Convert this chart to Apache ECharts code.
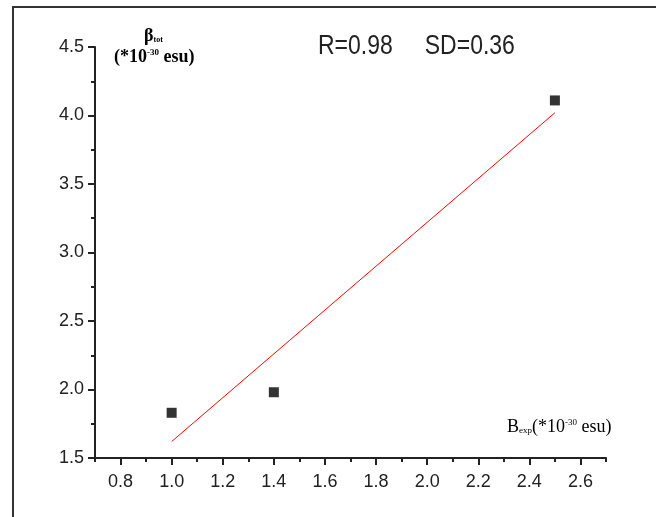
<!DOCTYPE html>
<html>
<head>
<meta charset="utf-8">
<script src="https://cdn.jsdelivr.net/npm/echarts@6/dist/echarts.min.js"></script>
<style>
  html, body { margin: 0; padding: 0; background: #fff; }
  #chart { width: 656px; height: 517px; }
</style>
</head>
<body>
<div id="chart"></div>
<script>
// experimental vs computed beta
const expValues = [1.0, 1.4, 2.5];
const totValues = [1.83, 1.98, 4.11];
const fitX = [1.0, 2.5];
const fitY = [1.62, 4.02];
const xTickLabels = [0.8, 1.0, 1.2, 1.4, 1.6, 1.8, 2.0, 2.2, 2.4, 2.6];
const xMinorTicks = [0.7, 0.9, 1.1, 1.3, 1.5, 1.7, 1.9, 2.1, 2.3, 2.5, 2.7];
const yTickLabels = [1.5, 2.0, 2.5, 3.0, 3.5, 4.0, 4.5];

const chart = echarts.init(document.getElementById('chart'), null, { renderer: 'canvas' });

const labelFont = { fontFamily: 'Liberation Sans', fontSize: 18, color: '#222' };
const serif = 'Liberation Serif';

const option = {
  animation: false,
  backgroundColor: '#fff',
  grid: { left: 95, top: 47, right: 50, bottom: 59 },
  xAxis: [
    {
      type: 'value', min: 0.7, max: 2.7,
      splitLine: { show: false },
      axisLine: { show: true, onZero: false, lineStyle: { color: '#222', width: 2 } },
      axisTick: { show: true, length: 7, customValues: xTickLabels, lineStyle: { color: '#222', width: 2 } },
      axisLabel: { ...labelFont, margin: 15, customValues: xTickLabels, formatter: v => v.toFixed(1) }
    },
    {
      type: 'value', min: 0.7, max: 2.7, position: 'bottom',
      splitLine: { show: false },
      axisLine: { show: false },
      axisTick: { show: true, length: 4, customValues: xMinorTicks, lineStyle: { color: '#222', width: 2 } },
      axisLabel: { show: false }
    }
  ],
  yAxis: {
    type: 'value', min: 1.5, max: 4.5, interval: 0.5,
    splitLine: { show: false },
    axisLine: { show: true, onZero: false, lineStyle: { color: '#222', width: 2 } },
    axisTick: { show: true, length: 7, lineStyle: { color: '#222', width: 2 } },
    minorTick: { show: true, splitNumber: 2, length: 4, lineStyle: { color: '#222', width: 2 } },
    axisLabel: { ...labelFont, margin: 11, formatter: v => v.toFixed(1) }
  },
  graphic: [
    { type: 'rect', shape: { x: 13, y: 7, width: 700, height: 600 },
      style: { fill: 'none', stroke: '#333', lineWidth: 2 }, silent: true },
    { type: 'text', x: 318, y: 33, scaleY: 1.17,
      style: { text: 'R=0.98     SD=0.36', font: '23px "Liberation Sans"', fill: '#222' } },
    { type: 'text', left: 144, top: 27,
      style: {
        text: '{b|β}{s|tot}',
        rich: {
          b: { fontFamily: serif, fontWeight: 'bold', fontSize: 18, color: '#222' },
          s: { fontFamily: serif, fontWeight: 'bold', fontSize: 8, color: '#222', padding: [8, 0, 0, 0] }
        }
      } },
    { type: 'text', left: 114, top: 48,
      style: {
        text: '{t|(*10}{p|-30}{t| esu)}',
        rich: {
          t: { fontFamily: serif, fontWeight: 'bold', fontSize: 18, color: '#222' },
          p: { fontFamily: serif, fontWeight: 'bold', fontSize: 9, color: '#222', padding: [0, 0, 9, 0] }
        }
      } },
    { type: 'text', left: 507, top: 418,
      style: {
        text: '{t|B}{s|exp}{t|(*10}{p|-30}{t| esu)}',
        rich: {
          t: { fontFamily: serif, fontSize: 18, color: '#222' },
          s: { fontFamily: serif, fontSize: 9, color: '#222', padding: [8, 0, 0, 0] },
          p: { fontFamily: serif, fontSize: 9, color: '#222', padding: [0, 0, 9, 0] }
        }
      } }
  ],
  series: [
    {
      type: 'line',
      data: fitX.map((x, i) => [x, fitY[i]]),
      showSymbol: false,
      lineStyle: { color: '#ff0000', width: 1 },
      z: 1
    },
    {
      type: 'scatter',
      data: expValues.map((x, i) => [x, totValues[i]]),
      symbol: 'rect',
      symbolSize: 10,
      itemStyle: { color: '#000' },
      z: 3
    }
  ]
};

chart.setOption(option);
</script>
</body>
</html>
